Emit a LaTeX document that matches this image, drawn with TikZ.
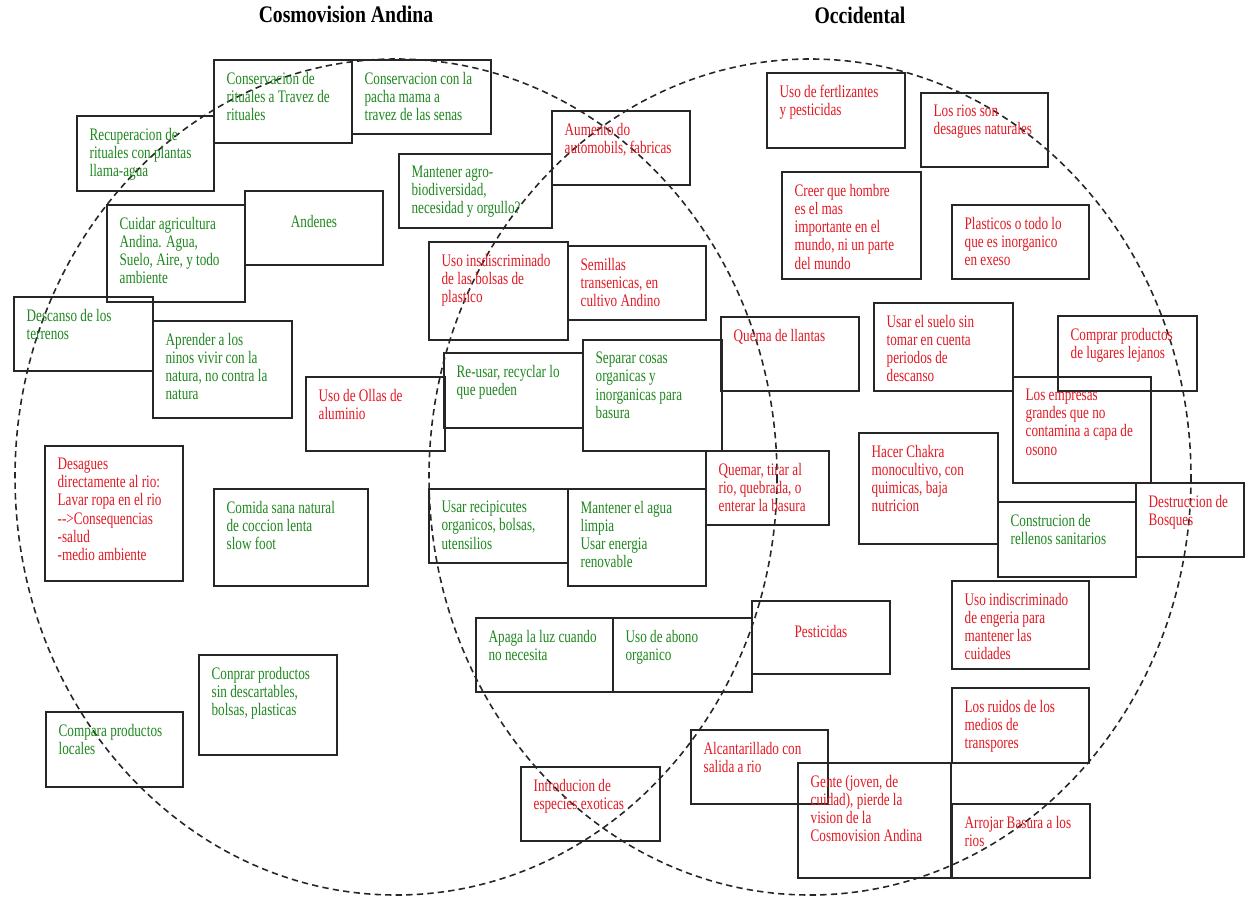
\documentclass[tikz,border=0pt]{standalone}
\usepackage{fontspec}
\usepackage{xcolor}
\usepackage{tikz}
\usetikzlibrary{fit}
\newfontfamily\boxfam[FakeStretch=0.75]{Liberation Serif}
\newfontfamily\ttlfam[FakeStretch=0.83]{Liberation Serif}
\definecolor{andgreen}{RGB}{30,135,30}
\definecolor{occred}{RGB}{225,25,35}
\tikzset{
  box/.style={draw=black!85, line width=0.8pt, inner sep=0pt},
  txt/.style={anchor=north west, draw=none, inner xsep=7.4pt, inner ysep=7pt, align=left,
    font=\boxfam\fontsize{10}{10.4}\selectfont},
  gbox/.style={box, label={[txt, text=andgreen]north west:{#1}}},
  rbox/.style={box, label={[txt, text=occred]north west:{#1}}},
  circ/.style={draw=black!85, line width=0.9pt, dash pattern=on 3.6pt off 2.4pt},
  ttl/.style={anchor=base, font=\ttlfam\bfseries\fontsize{13.5}{14}\selectfont}
}
\begin{document}
\begin{tikzpicture}[x=0.02cm, y=-0.02cm]
  \useasboundingbox (0,0) rectangle (1246,898);
  \node[ttl] (andina) at (346,23) {Cosmovision Andina};
  \node[ttl] (occid) at (860,24) {Occidental};

  \draw[circ] (396,477) ellipse [x radius=381, y radius=418];
  \draw[circ] (810,477) ellipse [x radius=381, y radius=418];

  \node[gbox={Conservacion de\\rituales a Travez de\\rituales}, fit={(214,60) (352,143)}] (consRit) {};
  \node[gbox={Conservacion con la\\pacha mama a\\travez de las senas}, fit={(352,60) (491,134)}] (consPacha) {};
  \node[gbox={Recuperacion de\\rituales con plantas\\llama-agua}, fit={(77,116) (214,191)}] (recup) {};
  \node[gbox={Cuidar agricultura\\Andina. Agua,\\Suelo, Aire, y todo\\ambiente}, fit={(107,205) (245,302)}] (cuidar) {};
  \node[box, text=andgreen, font=\boxfam\fontsize{10}{10.4}\selectfont, fit={(245,191) (383,265)}] (andenes) {Andenes};
  \node[gbox={Descanso de los\\terrenos}, fit={(14,297) (153,371)}] (descanso) {};
  \node[gbox={Aprender a los\\ninos vivir con la\\natura, no contra la\\natura}, fit={(153,321) (292,418)}] (aprender) {};
  \node[rbox={Uso de Ollas de\\aluminio}, fit={(306,377) (445,451)}] (ollas) {};
  \node[rbox={Desagues\\directamente al rio:\\Lavar ropa en el rio\\-{}-{}>Consequencias\\-salud\\-medio ambiente}, fit={(45,446) (183,581)}] (desagues) {};
  \node[gbox={Comida sana natural\\de coccion lenta\\slow foot}, fit={(214,489) (368,586)}] (comida) {};
  \node[gbox={Compara productos\\locales}, fit={(46,712) (183,787)}] (compara) {};
  \node[gbox={Conprar productos\\sin descartables,\\bolsas, plasticas}, fit={(199,655) (337,755)}] (conprar) {};

  \node[rbox={Aumento do\\automobils, fabricas}, fit={(552,111) (690,185)}] (aumento) {};
  \node[gbox={Mantener agro-\\biodiversidad,\\necesidad y orgullo?}, fit={(399,154) (552,228)}] (agro) {};
  \node[rbox={Uso insdiscriminado\\de las bolsas de\\plastico}, fit={(429,242) (568,340)}] (bolsas) {};
  \node[rbox={Semillas\\transenicas, en\\cultivo Andino}, fit={(568,246) (706,320)}] (semillas) {};
  \node[gbox={Re-usar, recyclar lo\\que pueden}, fit={(444,353) (583,428)}] (reusar) {};
  \node[gbox={Separar cosas\\organicas y\\inorganicas para\\basura}, fit={(583,340) (722,451)}] (separar) {};
  \node[rbox={Quema de llantas}, fit={(721,317) (859,391)}] (llantas) {};
  \node[rbox={Quemar, tirar al\\rio, quebrada, o\\enterar la basura}, fit={(706,451) (829,525)}] (quemar) {};
  \node[gbox={Usar recipicutes\\organicos, bolsas,\\utensilios}, fit={(429,489) (568,563)}] (recip) {};
  \node[gbox={Mantener el agua\\limpia\\Usar energia\\renovable}, fit={(568,489) (706,586)}] (agua) {};
  \node[gbox={Apaga la luz cuando\\no necesita}, fit={(476,618) (613,692)}] (luz) {};
  \node[gbox={Uso de abono\\organico}, fit={(613,618) (752,692)}] (abono) {};
  \node[box, text=occred, font=\boxfam\fontsize{10}{10.4}\selectfont, fit={(752,601) (890,674)}] (pest) {Pesticidas};
  \node[rbox={Introducion de\\especies exoticas}, fit={(521,767) (660,841)}] (exoticas) {};
  \node[rbox={Alcantarillado con\\salida a rio}, fit={(691,730) (828,804)}] (alcant) {};
  \node[rbox={Gente (joven, de\\cuidad), pierde la\\vision de la\\Cosmovision Andina}, fit={(798,763) (951,878)}] (gente) {};

  \node[rbox={Uso de fertlizantes\\y pesticidas}, fit={(767,73) (905,148)}] (fert) {};
  \node[rbox={Los rios son\\desagues naturales}, fit={(921,93) (1048,167)}] (rios) {};
  \node[rbox={Creer que hombre\\es el mas\\importante en el\\mundo, ni un parte\\del mundo}, fit={(782,172) (921,279)}] (creer) {};
  \node[rbox={Plasticos o todo lo\\que es inorganico\\en exeso}, fit={(952,205) (1089,279)}] (plast) {};
  \node[rbox={Usar el suelo sin\\tomar en cuenta\\periodos de\\descanso}, fit={(874,303) (1013,391)}] (suelo) {};
  \node[rbox={Comprar productos\\de lugares lejanos}, fit={(1058,316) (1197,391)}] (lejanos) {};
  \node[rbox={Los empresas\\grandes que no\\contamina a capa de\\osono}, fit={(1013,377) (1151,483)}] (empresas) {};
  \node[rbox={Hacer Chakra\\monocultivo, con\\quimicas, baja\\nutricion}, fit={(859,433) (998,544)}] (chakra) {};
  \node[gbox={Construcion de\\rellenos sanitarios}, fit={(998,502) (1136,577)}] (relleno) {};
  \node[rbox={Destruccion de\\Bosques}, fit={(1136,483) (1244,557)}] (bosques) {};
  \node[rbox={Uso indiscriminado\\de engeria para\\mantener las\\cuidades}, fit={(952,581) (1089,669)}] (engeria) {};
  \node[rbox={Los ruidos de los\\medios de\\transpores}, fit={(952,688) (1089,763)}] (ruidos) {};
  \node[rbox={Arrojar Basura a los\\rios}, fit={(952,804) (1090,878)}] (basura) {};
\end{tikzpicture}
\end{document}
